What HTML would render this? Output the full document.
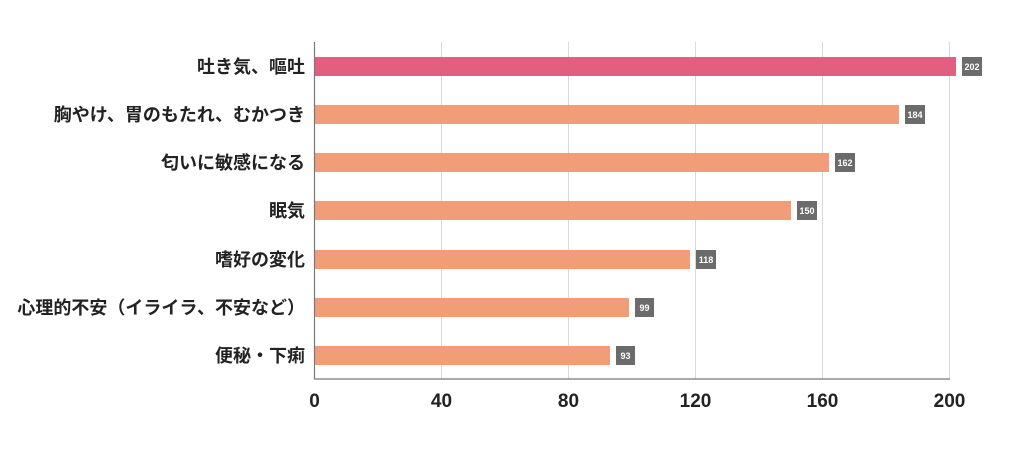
<!DOCTYPE html>
<html><head><meta charset="utf-8"><style>
html,body{margin:0;padding:0;background:#fff;}
svg{display:block;}
.lab{font-family:"Liberation Sans","Noto Sans CJK JP",sans-serif;font-weight:bold;font-size:18px;fill:#222;}
.tick{font-family:"Liberation Sans","Noto Sans CJK JP",sans-serif;font-weight:bold;font-size:19px;fill:#222;}
.val{font-family:"Liberation Sans",sans-serif;font-weight:bold;font-size:9px;fill:#fff;}
</style></head><body>
<svg width="1024" height="450" xmlns="http://www.w3.org/2000/svg">
<g stroke="#d9d9d9" stroke-width="1">
<line x1="441.5" y1="42" x2="441.5" y2="379"/>
<line x1="568.5" y1="42" x2="568.5" y2="379"/>
<line x1="695.5" y1="42" x2="695.5" y2="379"/>
<line x1="822.5" y1="42" x2="822.5" y2="379"/>
<line x1="949.5" y1="42" x2="949.5" y2="379"/>
</g>
<g>
<rect x="315" y="57" width="641" height="19" fill="#e2607f"/>
<rect x="315" y="105" width="584" height="19" fill="#f19d78"/>
<rect x="315" y="153" width="514" height="19" fill="#f19d78"/>
<rect x="315" y="201" width="476" height="19" fill="#f19d78"/>
<rect x="315" y="250" width="375" height="19" fill="#f19d78"/>
<rect x="315" y="298" width="314" height="19" fill="#f19d78"/>
<rect x="315" y="346" width="295" height="19" fill="#f19d78"/>
</g>
<g fill="#6b6b6b">
<rect x="962" y="57" width="20" height="19"/>
<rect x="905" y="105" width="20" height="19"/>
<rect x="835" y="153" width="20" height="19"/>
<rect x="797" y="201" width="20" height="19"/>
<rect x="696" y="250" width="20" height="19"/>
<rect x="635" y="298" width="19" height="19"/>
<rect x="616" y="346" width="19" height="19"/>
</g>
<g class="val" text-anchor="middle">
<text x="972" y="70">202</text>
<text x="915" y="118">184</text>
<text x="845" y="166">162</text>
<text x="807" y="214">150</text>
<text x="706" y="263">118</text>
<text x="644.5" y="311">99</text>
<text x="625.5" y="359">93</text>
</g>
<g stroke="#777" stroke-width="1.2">
<line x1="314.5" y1="42" x2="314.5" y2="379"/>
<line x1="314" y1="379" x2="950" y2="379"/>
</g>
<g class="lab" text-anchor="end">
<text x="305" y="73">吐き気、嘔吐</text>
<text x="305" y="121">胸やけ、胃のもたれ、むかつき</text>
<text x="305" y="169">匂いに敏感になる</text>
<text x="305" y="217">眠気</text>
<text x="305" y="266">嗜好の変化</text>
<text x="305" y="314">心理的不安（イライラ、不安など）</text>
<text x="305" y="362">便秘・下痢</text>
</g>
<g class="tick" text-anchor="middle">
<text x="314.5" y="407">0</text>
<text x="441.5" y="407">40</text>
<text x="568.5" y="407">80</text>
<text x="695.5" y="407">120</text>
<text x="822.5" y="407">160</text>
<text x="949.5" y="407">200</text>
</g>
</svg>
</body></html>
